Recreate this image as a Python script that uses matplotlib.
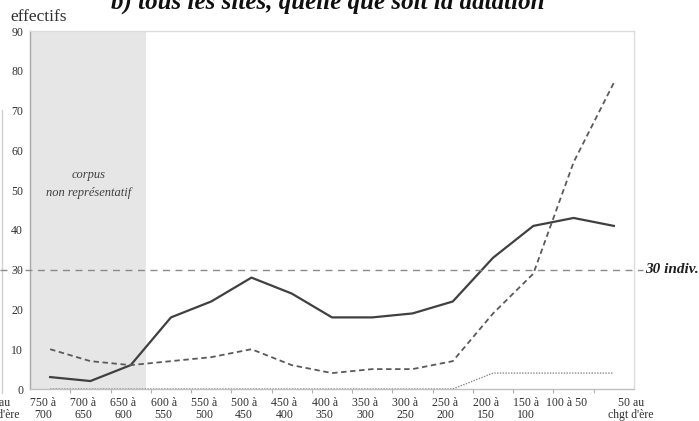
import matplotlib
matplotlib.use('Agg')
import matplotlib.pyplot as plt
from matplotlib.lines import Line2D

# data
periods = ['750 à\n700', '700 à\n650', '650 à\n600', '600 à\n550', '550 à\n500',
           '500 à\n450', '450 à\n400', '400 à\n350', '350 à\n300', '300 à\n250',
           '250 à\n200', '200 à\n150', '150 à\n100', '100 à 50\n', '50 au\nchgt d\'ère']
solid = [3, 2, 6, 18, 22, 28, 24, 18, 18, 19, 22, 33, 41, 43, 41]
dashed = [10, 7, 6, 7, 8, 10, 6, 4, 5, 5, 7, 19, 29, 57, 77]
dotted = [0, 0, 0, 0, 0, 0, 0, 0, 0, 0, 0, 4, 4, 4, 4]
seuil = 30
shade_end = 2.38   # end of the "corpus non représentatif" band (category units)

serif = 'Liberation Serif'
plt.rcParams['font.family'] = serif

fig = plt.figure(figsize=(6.99, 4.21), dpi=100)
ax = fig.add_axes([30/699, 32/421, 604/699, 358/421])

x = list(range(len(periods)))
ax.axvspan(-0.5, shade_end, color='#e6e6e6', lw=0, zorder=0)
ax.plot(x, solid, color='#404040', lw=1.6, zorder=3)
ax.plot(x, dashed, color='#5a5a5a', lw=1.3, ls=(0, (3, 2)), zorder=3)
ax.plot(x, dotted, color='#8a8a8a', lw=1.0, ls=(0, (1, 1)), zorder=3)

ax.set_xlim(-0.5, len(periods) - 0.5)
ax.set_ylim(0, 90)
ax.set_yticks(range(0, 91, 10))
ax.tick_params(axis='y', length=0, pad=5, labelsize=8.5, labelcolor='#303030')

# labels sit a bit left of the category centres, as in the source
lab_pos = [i - 0.18 for i in x[:-1]] + [x[-1] + 0.42]
ax.set_xticks(lab_pos)
ax.set_xticklabels(periods, fontsize=8.5, color='#303030', linespacing=0.95)
ax.tick_params(axis='x', which='major', length=0, pad=6)
ax.set_xticks([i + 0.5 for i in x[:-1]], minor=True)
ax.tick_params(axis='x', which='minor', length=3, color='#b0b0b0', width=0.8)

for side in ['top', 'right']:
    ax.spines[side].set_color('#dcdcdc')
ax.spines['left'].set_color('#a8a8a8')
ax.spines['bottom'].set_color('#c0c0c0')
for s in ax.spines.values():
    s.set_linewidth(1.0)

# 30 individuals threshold, runs outside the axes
y30 = ax.transData.transform((0, seuil))[1] / fig.bbox.height
fig.add_artist(Line2D([0, 643/699], [y30, y30], transform=fig.transFigure,
                      color='#8a8a8a', lw=1.0, ls=(0, (5, 4)), zorder=5))
fig.text(645/699, y30, '30 indiv.', fontsize=11, fontweight='bold', fontstyle='italic',
         va='center', ha='left', color='#202020')

ax.text(0.95, 51.5, 'corpus\nnon représentatif', fontsize=9, fontstyle='italic',
        ha='center', va='center', color='#404040', linespacing=1.6)

fig.text(10/699, 1 - 17/421, 'effectifs', fontsize=12.5, va='center', ha='left', color='#303030')

# title of the panel, cut by the top of the picture
fig.text(328/699, 1 - 9/421, 'b) tous les sites, quelle que soit la datation', fontsize=18,
         fontweight='bold', fontstyle='italic', ha='center', va='baseline', color='#101010')

# leftovers of the neighbouring chart
fig.add_artist(Line2D([1.5/699, 1.5/699], [1 - 393/421, 1 - 110/421], transform=fig.transFigure,
                      color='#d0d0d0', lw=1.0))
fig.text(-3/699, 1 - 409/421, '50 au\nchgt d\'ère', fontsize=8.5, ha='center', va='center',
         color='#303030', linespacing=0.95)

fig.savefig('out.png', dpi=100)
